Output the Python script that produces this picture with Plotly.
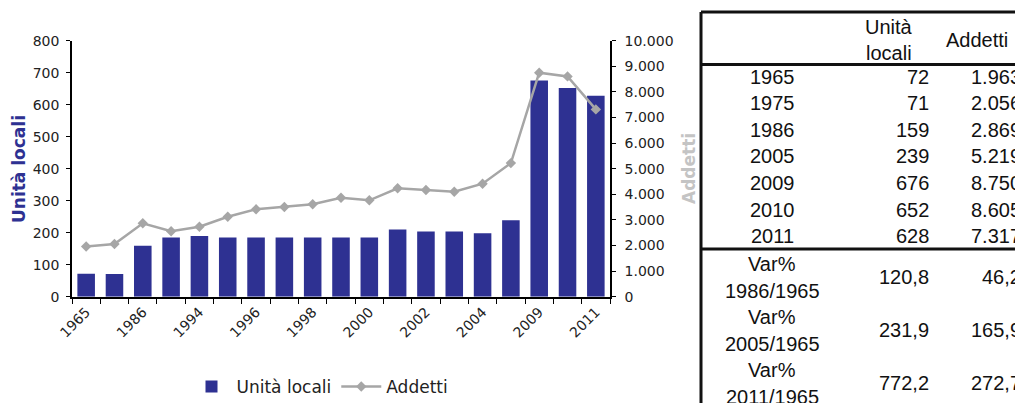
import numpy as np
import plotly.graph_objects as go

W, H = 1015, 403

# Serie storica: unità locali (barre) e addetti (linea)
years = ["1965", "1975", "1986", "1993", "1994", "1995", "1996", "1997", "1998", "1999",
         "2000", "2001", "2002", "2003", "2004", "2005", "2009", "2010", "2011"]
unita_locali = [72, 71, 159, 185, 190, 185, 185, 185, 185, 185,
                185, 210, 204, 204, 198, 239, 676, 652, 628]
addetti = [1963, 2056, 2869, 2554, 2734, 3125, 3414, 3504, 3609, 3867,
           3765, 4234, 4168, 4102, 4414, 5219, 8750, 8605, 7317]
year_labels = [y if i % 2 == 0 else "" for i, y in enumerate(years)]

# Tabella riassuntiva
tab_years = ["1965", "1975", "1986", "2005", "2009", "2010", "2011"]
tab_ul = [72, 71, 159, 239, 676, 652, 628]
tab_add = [1963, 2056, 2869, 5219, 8750, 8605, 7317]
var_periods = ["1986/1965", "2005/1965", "2011/1965"]
var_ul = [120.8, 231.9, 772.2]
var_add = [46.2, 165.9, 272.7]

BLUE = "#2E3192"
GREY = "#A6A6A6"
CHART_FONT = "DejaVu Sans, sans-serif"
TABLE_FONT = "Liberation Sans, Arial, sans-serif"


def px(x):
    return x / W


def py(y):
    return 1 - y / H


def fmt_int(v):
    return f"{v:,}".replace(",", ".")


def fmt_dec(v):
    return f"{v:.1f}".replace(".", ",")


fig = go.Figure()
fig.add_trace(go.Bar(x=years, y=unita_locali, name="Unità locali",
                     marker=dict(color=BLUE, line=dict(width=0)), width=0.62))
fig.add_trace(go.Scatter(x=years, y=addetti, name="Addetti", yaxis="y2",
                         mode="lines+markers",
                         line=dict(color=GREY, width=2.5),
                         marker=dict(symbol="diamond", size=8, color=GREY)))

xdom = [px(72), px(610)]
ydom = [py(296.7), py(40.7)]
n = len(years)
bounds = np.arange(-0.5, n, 1.0)

tickfont = dict(family=CHART_FONT, size=14, color="#222222")

fig.update_layout(
    width=W, height=H,
    margin=dict(l=0, r=0, t=0, b=0, autoexpand=False),
    paper_bgcolor="white", plot_bgcolor="white",
    separators=",.",
    font=dict(family=CHART_FONT, color="#222222"),
    xaxis=dict(type="category", domain=xdom, anchor="y", range=[-0.5, n - 0.5],
               tickmode="array", tickvals=years, ticktext=year_labels,
               tickson="boundaries", ticks="outside", ticklen=6, tickcolor="black",
               tickangle=-45, tickfont=tickfont,
               showline=True, linecolor="black", linewidth=1.5,
               showgrid=False, zeroline=False, automargin=False),
    xaxis3=dict(overlaying="x", anchor="y", type="linear", range=[-0.5, n - 0.5],
                tickmode="array", tickvals=bounds, ticks="inside", ticklen=2,
                tickcolor="black", showticklabels=False, showline=False,
                showgrid=False, zeroline=False),
    yaxis=dict(domain=ydom, anchor="x", range=[0, 800], dtick=100,
               ticks="outside", ticklen=4, tickcolor="black", tickfont=tickfont,
               ticklabelstandoff=4,
               showline=True, linecolor="black", linewidth=1.5,
               showgrid=False, zeroline=False, automargin=False),
    yaxis3=dict(overlaying="y", anchor="x", side="left", range=[0, 800], dtick=100,
                ticks="inside", ticklen=6, tickcolor="black",
                showticklabels=False, showline=False, showgrid=False, zeroline=False),
    yaxis2=dict(overlaying="y", anchor="x", side="right", range=[0, 10000], dtick=1000,
                tickformat=",d", ticks="outside", ticklen=4, tickcolor="black",
                tickfont=tickfont, ticklabelstandoff=6,
                showline=True, linecolor="black", linewidth=1.5,
                showgrid=False, zeroline=False, automargin=False),
    yaxis4=dict(overlaying="y", anchor="x", side="right", range=[0, 10000], dtick=1000,
                ticks="inside", ticklen=6, tickcolor="black",
                showticklabels=False, showline=False, showgrid=False, zeroline=False),
    legend=dict(orientation="h", x=px(320), xanchor="center", y=py(387), yanchor="middle",
                font=dict(family=CHART_FONT, size=17, color="#222222"),
                bgcolor="rgba(0,0,0,0)", itemwidth=40, tracegroupgap=0),
    showlegend=True,
)

annotations = [
    dict(text="<b>Unità locali</b>", x=px(19), y=py(169), xref="paper", yref="paper",
         xanchor="center", yanchor="middle",
         textangle=-90, showarrow=False, font=dict(family=CHART_FONT, size=17, color=BLUE)),
    dict(text="<b>Addetti</b>", x=px(689), y=py(169), xref="paper", yref="paper",
         xanchor="center", yanchor="middle",
         textangle=-90, showarrow=False, font=dict(family=CHART_FONT, size=17, color="#C4C4C4")),
]

tfont = dict(family=TABLE_FONT, size=20, color="#111111")


def cell(text, x, y, anchor):
    return dict(text=text, x=px(x), y=py(y), xref="paper", yref="paper",
                showarrow=False, xanchor=anchor, yanchor="middle", font=tfont)


COL1, COL2, COL3 = 772, 931, 1023

# intestazione
annotations.append(cell("Unità", 889, 27, "center"))
annotations.append(cell("locali", 889, 53, "center"))
annotations.append(cell("Addetti", 977, 40, "center"))

# righe annuali
row_y0, row_dy = 77, 26.5
for i, (yr, ul, ad) in enumerate(zip(tab_years, tab_ul, tab_add)):
    yy = row_y0 + i * row_dy
    annotations.append(cell(yr, COL1, yy, "center"))
    annotations.append(cell(str(ul), COL2, yy, "right"))
    annotations.append(cell(fmt_int(ad), COL3, yy, "right"))

# variazioni percentuali
var_y0, var_dy = 277, 53
for i, (per, vu, va) in enumerate(zip(var_periods, var_ul, var_add)):
    yy = var_y0 + i * var_dy
    annotations.append(cell("Var%", COL1, yy - 13.5, "center"))
    annotations.append(cell(per, COL1, yy + 13.5, "center"))
    annotations.append(cell(fmt_dec(vu), COL2, yy, "right"))
    annotations.append(cell(fmt_dec(va), COL3, yy, "right"))

fig.update_layout(annotations=annotations)

border = dict(color="#111111", width=3)
shapes = [
    dict(type="line", xref="paper", yref="paper", x0=px(701), x1=px(1020), y0=py(12), y1=py(12), line=border),
    dict(type="line", xref="paper", yref="paper", x0=px(701), x1=px(701), y0=py(12), y1=py(410), line=border),
    dict(type="line", xref="paper", yref="paper", x0=px(701), x1=px(1020), y0=py(64.5), y1=py(64.5), line=border),
    dict(type="line", xref="paper", yref="paper", x0=px(701), x1=px(1020), y0=py(249), y1=py(249), line=border),
]
fig.update_layout(shapes=shapes)

fig.write_html("out.html")
